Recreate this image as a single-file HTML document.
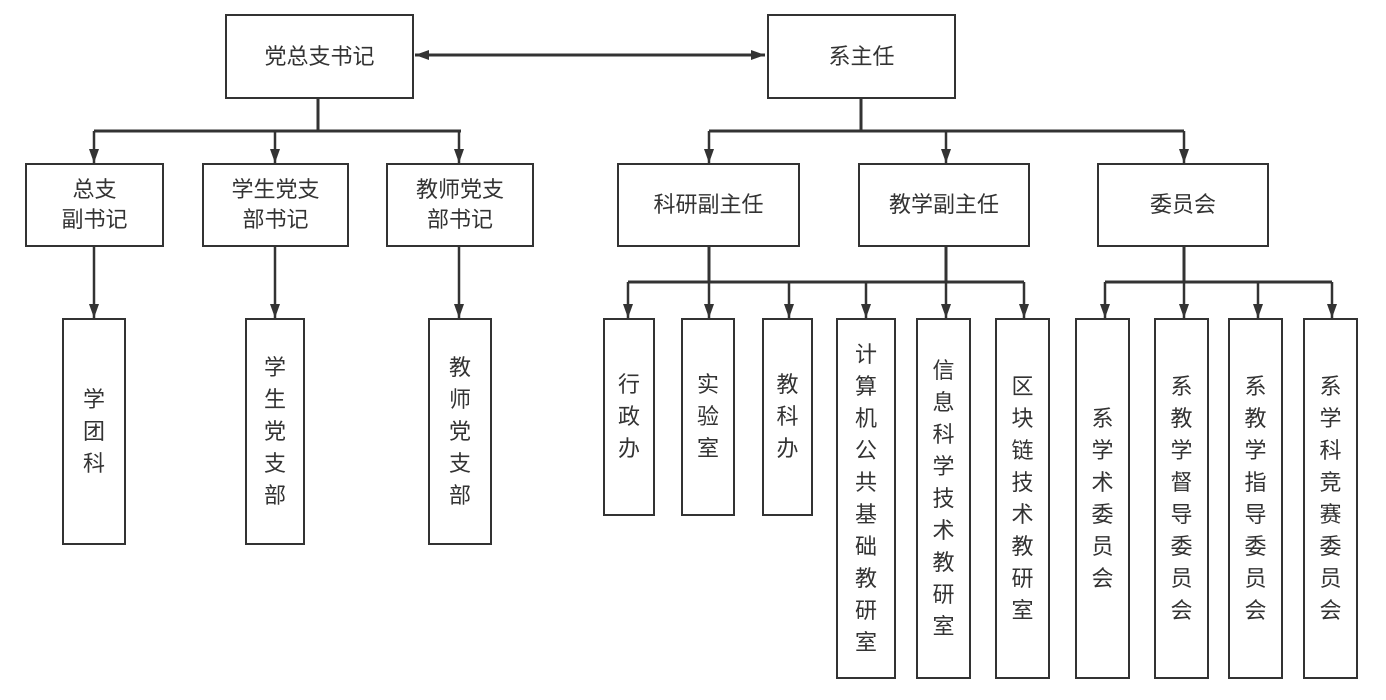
<!DOCTYPE html>
<html><head><meta charset="utf-8"><style>
html,body{margin:0;padding:0;background:#fff;}
body{width:1386px;height:700px;position:relative;overflow:hidden;font-family:"Liberation Sans","Noto Sans CJK SC",sans-serif;color:#333;}
.b{position:absolute;box-sizing:border-box;border:2px solid #333;background:#fff;display:flex;align-items:center;justify-content:center;text-align:center;font-size:22px;line-height:30px;}
.v{line-height:32px;}
svg{position:absolute;left:0;top:0;}
</style></head><body>
<svg width="1386" height="700">
<defs>
<marker id="d" viewBox="0 0 14 10" markerWidth="14" markerHeight="10" refX="14" refY="5" orient="auto-start-reverse" markerUnits="userSpaceOnUse"><path d="M0,0 L14,5 L0,10 Z" fill="#333"/></marker></defs>
<g stroke="#333" stroke-width="3" fill="none">
<line x1="415" y1="55" x2="765" y2="55" marker-end="url(#d)" marker-start="url(#d)"/>
<path d="M318,98 V131 M94,131 H461 M861,98 V131 M709,131 H1184 M709,247 V282 M946,247 V282 M628,282 H1024 M1184,247 V282 M1105,282 H1332"/>
</g>
<g stroke="#333" stroke-width="2.5" fill="none">
<line x1="94" y1="131" x2="94" y2="163" marker-end="url(#d)"/>
<line x1="275" y1="131" x2="275" y2="163" marker-end="url(#d)"/>
<line x1="459" y1="131" x2="459" y2="163" marker-end="url(#d)"/>
<line x1="709" y1="131" x2="709" y2="163" marker-end="url(#d)"/>
<line x1="946" y1="131" x2="946" y2="163" marker-end="url(#d)"/>
<line x1="1184" y1="131" x2="1184" y2="163" marker-end="url(#d)"/>
<line x1="94" y1="247" x2="94" y2="318" marker-end="url(#d)"/>
<line x1="275" y1="247" x2="275" y2="318" marker-end="url(#d)"/>
<line x1="459" y1="247" x2="459" y2="318" marker-end="url(#d)"/>
<line x1="628" y1="282" x2="628" y2="318" marker-end="url(#d)"/>
<line x1="709" y1="282" x2="709" y2="318" marker-end="url(#d)"/>
<line x1="789" y1="282" x2="789" y2="318" marker-end="url(#d)"/>
<line x1="866" y1="282" x2="866" y2="318" marker-end="url(#d)"/>
<line x1="946" y1="282" x2="946" y2="318" marker-end="url(#d)"/>
<line x1="1024" y1="282" x2="1024" y2="318" marker-end="url(#d)"/>
<line x1="1105" y1="282" x2="1105" y2="318" marker-end="url(#d)"/>
<line x1="1184" y1="282" x2="1184" y2="318" marker-end="url(#d)"/>
<line x1="1258" y1="282" x2="1258" y2="318" marker-end="url(#d)"/>
<line x1="1332" y1="282" x2="1332" y2="318" marker-end="url(#d)"/>
</g>
</svg>
<div class="b" style="left:225px;top:14px;width:189px;height:85px">党总支书记</div>
<div class="b" style="left:767px;top:14px;width:189px;height:85px">系主任</div>
<div class="b" style="left:25px;top:163px;width:139px;height:84px">总支<br>副书记</div>
<div class="b" style="left:202px;top:163px;width:147px;height:84px">学生党支<br>部书记</div>
<div class="b" style="left:386px;top:163px;width:148px;height:84px">教师党支<br>部书记</div>
<div class="b" style="left:617px;top:163px;width:183px;height:84px">科研副主任</div>
<div class="b" style="left:858px;top:163px;width:172px;height:84px">教学副主任</div>
<div class="b" style="left:1097px;top:163px;width:172px;height:84px">委员会</div>
<div class="b v" style="left:62px;top:318px;width:64px;height:227px">学<br>团<br>科</div>
<div class="b v" style="left:245px;top:318px;width:60px;height:227px">学<br>生<br>党<br>支<br>部</div>
<div class="b v" style="left:428px;top:318px;width:64px;height:227px">教<br>师<br>党<br>支<br>部</div>
<div class="b v" style="left:603px;top:318px;width:52px;height:198px">行<br>政<br>办</div>
<div class="b v" style="left:681px;top:318px;width:54px;height:198px">实<br>验<br>室</div>
<div class="b v" style="left:762px;top:318px;width:51px;height:198px">教<br>科<br>办</div>
<div class="b v" style="left:836px;top:318px;width:60px;height:361px">计<br>算<br>机<br>公<br>共<br>基<br>础<br>教<br>研<br>室</div>
<div class="b v" style="left:916px;top:318px;width:55px;height:361px">信<br>息<br>科<br>学<br>技<br>术<br>教<br>研<br>室</div>
<div class="b v" style="left:995px;top:318px;width:55px;height:361px">区<br>块<br>链<br>技<br>术<br>教<br>研<br>室</div>
<div class="b v" style="left:1075px;top:318px;width:55px;height:361px">系<br>学<br>术<br>委<br>员<br>会</div>
<div class="b v" style="left:1154px;top:318px;width:55px;height:361px">系<br>教<br>学<br>督<br>导<br>委<br>员<br>会</div>
<div class="b v" style="left:1228px;top:318px;width:55px;height:361px">系<br>教<br>学<br>指<br>导<br>委<br>员<br>会</div>
<div class="b v" style="left:1303px;top:318px;width:55px;height:361px">系<br>学<br>科<br>竞<br>赛<br>委<br>员<br>会</div>
</body></html>
